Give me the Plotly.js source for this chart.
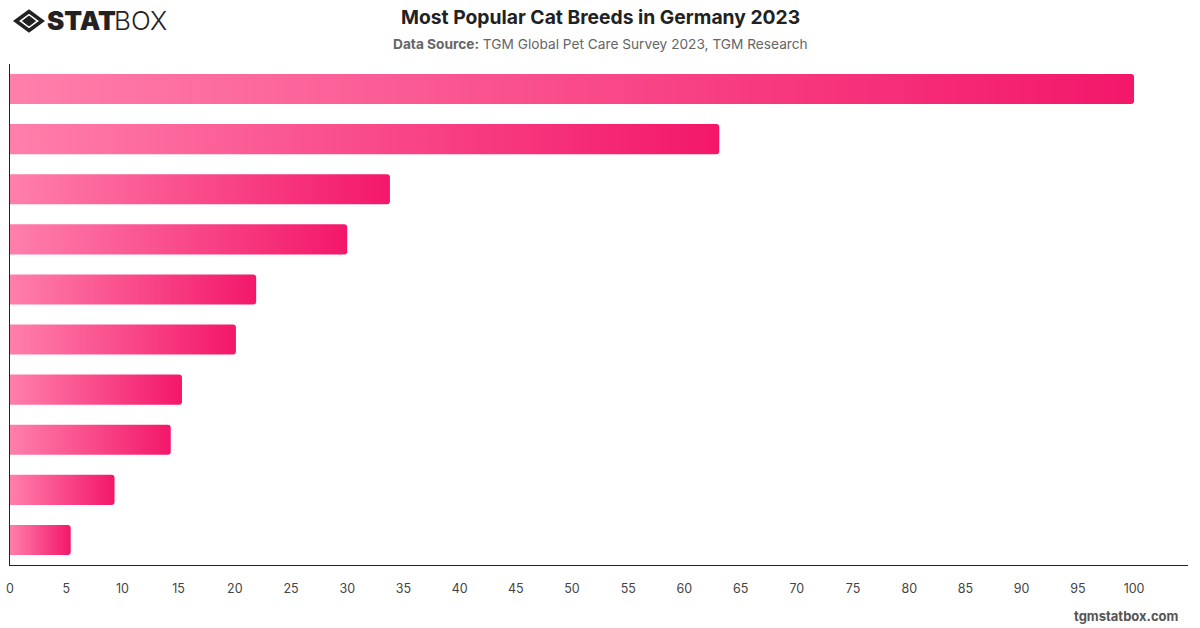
<!DOCTYPE html>
<html>
<head>
<meta charset="utf-8">
<script src="https://cdn.plot.ly/plotly-3.0.1.min.js"></script>
<style>
  html, body { margin: 0; padding: 0; background: #ffffff; }
  #chart { width: 1200px; height: 628px; }
</style>
</head>
<body>
<div id="chart"></div>
<script>
// Breed ranks (labels are not shown on the axis) and their index values
const ranks = ["1", "2", "3", "4", "5", "6", "7", "8", "9", "10"];
const values = [100, 63.1, 33.8, 30.0, 21.9, 20.1, 15.3, 14.3, 9.3, 5.4];

const xTicks = [0, 5, 10, 15, 20, 25, 30, 35, 40, 45, 50, 55, 60, 65, 70, 75, 80, 85, 90, 95, 100];

const titleText = "Most Popular Cat Breeds in Germany 2023";
const sourceText = "<b>Data Source:</b> TGM Global Pet Care Survey 2023, TGM Research";
const footerText = "tgmstatbox.com";

const trace = {
  type: "bar",
  orientation: "h",
  x: values,
  y: ranks,
  width: 0.6,
  marker: { color: "#f7347a", line: { width: 0 } },
  hoverinfo: "x"
};

// Plot area spans px 10..1188 horizontally and 64..565 vertically
const L = 10, R = 12, T = 64, B = 63;
const PW = 1200 - L - R, PH = 628 - T - B;
const px = v => (v - L) / PW;
const py = v => (628 - B - v) / PH;

// Logo mark: outer diamond ring with an inner filled diamond
function diamond(cx, cy, hw, hh) {
  return `M${px(cx - hw)},${py(cy)} L${px(cx)},${py(cy - hh)} L${px(cx + hw)},${py(cy)} L${px(cx)},${py(cy + hh)} Z`;
}

const layout = {
  width: 1200,
  height: 628,
  margin: { l: L, r: R, t: T, b: B },
  paper_bgcolor: "#ffffff",
  plot_bgcolor: "#ffffff",
  font: { family: "Inter, 'Open Sans', sans-serif", color: "#444" },
  showlegend: false,
  barcornerradius: 3,
  xaxis: {
    range: [0, 104.8],
    tickvals: xTicks,
    ticktext: xTicks.map(String),
    showgrid: false,
    zeroline: false,
    showline: true,
    linecolor: "#222",
    linewidth: 1,
    ticks: "",
    ticklabelstandoff: 12,
    tickfont: { size: 12.5, color: "#444" },
    fixedrange: true
  },
  yaxis: {
    type: "category",
    autorange: "reversed",
    showticklabels: false,
    showgrid: false,
    zeroline: false,
    showline: true,
    linecolor: "#222",
    linewidth: 1,
    ticks: "",
    fixedrange: true
  },
  shapes: [
    {
      type: "path", xref: "paper", yref: "paper",
      path: diamond(29, 21, 13, 9.5),
      line: { color: "#222", width: 3.5 }, fillcolor: "rgba(0,0,0,0)"
    },
    {
      type: "path", xref: "paper", yref: "paper",
      path: diamond(29, 21, 6.5, 5),
      line: { color: "#222", width: 1 }, fillcolor: "#222"
    }
  ],
  annotations: [
    {
      text: titleText, xref: "paper", yref: "paper",
      x: px(600), y: py(17), xanchor: "center", yanchor: "middle",
      showarrow: false,
      font: { family: "Inter, 'Open Sans', sans-serif", size: 19.3, color: "#222", weight: 700 }
    },
    {
      text: sourceText, xref: "paper", yref: "paper",
      x: px(600), y: py(44), xanchor: "center", yanchor: "middle",
      showarrow: false,
      font: { family: "Inter, 'Open Sans', sans-serif", size: 13.7, color: "#666" }
    },
    {
      text: "STAT", xref: "paper", yref: "paper",
      x: px(45), y: py(21), xanchor: "left", yanchor: "middle",
      showarrow: false,
      font: { family: "Inter, Roboto, sans-serif", size: 26, color: "#222", weight: 900 }
    },
    {
      text: "BOX", xref: "paper", yref: "paper",
      x: px(112), y: py(21), xanchor: "left", yanchor: "middle",
      showarrow: false,
      font: { family: "Inter, Roboto, sans-serif", size: 26, color: "#222", weight: 300 }
    },
    {
      text: footerText, xref: "paper", yref: "paper",
      x: px(1181), y: py(616), xanchor: "right", yanchor: "middle",
      showarrow: false,
      font: { family: "Inter, 'Open Sans', sans-serif", size: 13, color: "#555", weight: 700 }
    }
  ]
};

Plotly.newPlot("chart", [trace], layout, { displayModeBar: false, staticPlot: true }).then(gd => {
  // Fill each bar with a left-to-right pink gradient
  const svg = gd.querySelector(".main-svg");
  const ns = "http://www.w3.org/2000/svg";
  let defs = svg.querySelector("defs");
  if (!defs) { defs = document.createElementNS(ns, "defs"); svg.insertBefore(defs, svg.firstChild); }
  const grad = document.createElementNS(ns, "linearGradient");
  grad.setAttribute("id", "barGradient");
  grad.setAttribute("x1", "0"); grad.setAttribute("y1", "0");
  grad.setAttribute("x2", "1"); grad.setAttribute("y2", "0");
  [["0%", "#ff7fab"], ["100%", "#f3176a"]].forEach(([o, c]) => {
    const s = document.createElementNS(ns, "stop");
    s.setAttribute("offset", o);
    s.setAttribute("stop-color", c);
    grad.appendChild(s);
  });
  defs.appendChild(grad);
  gd.querySelectorAll(".barlayer .point path").forEach(p => {
    p.style.fill = "url(#barGradient)";
    p.style.fillOpacity = "1";
  });
});
</script>
</body>
</html>
